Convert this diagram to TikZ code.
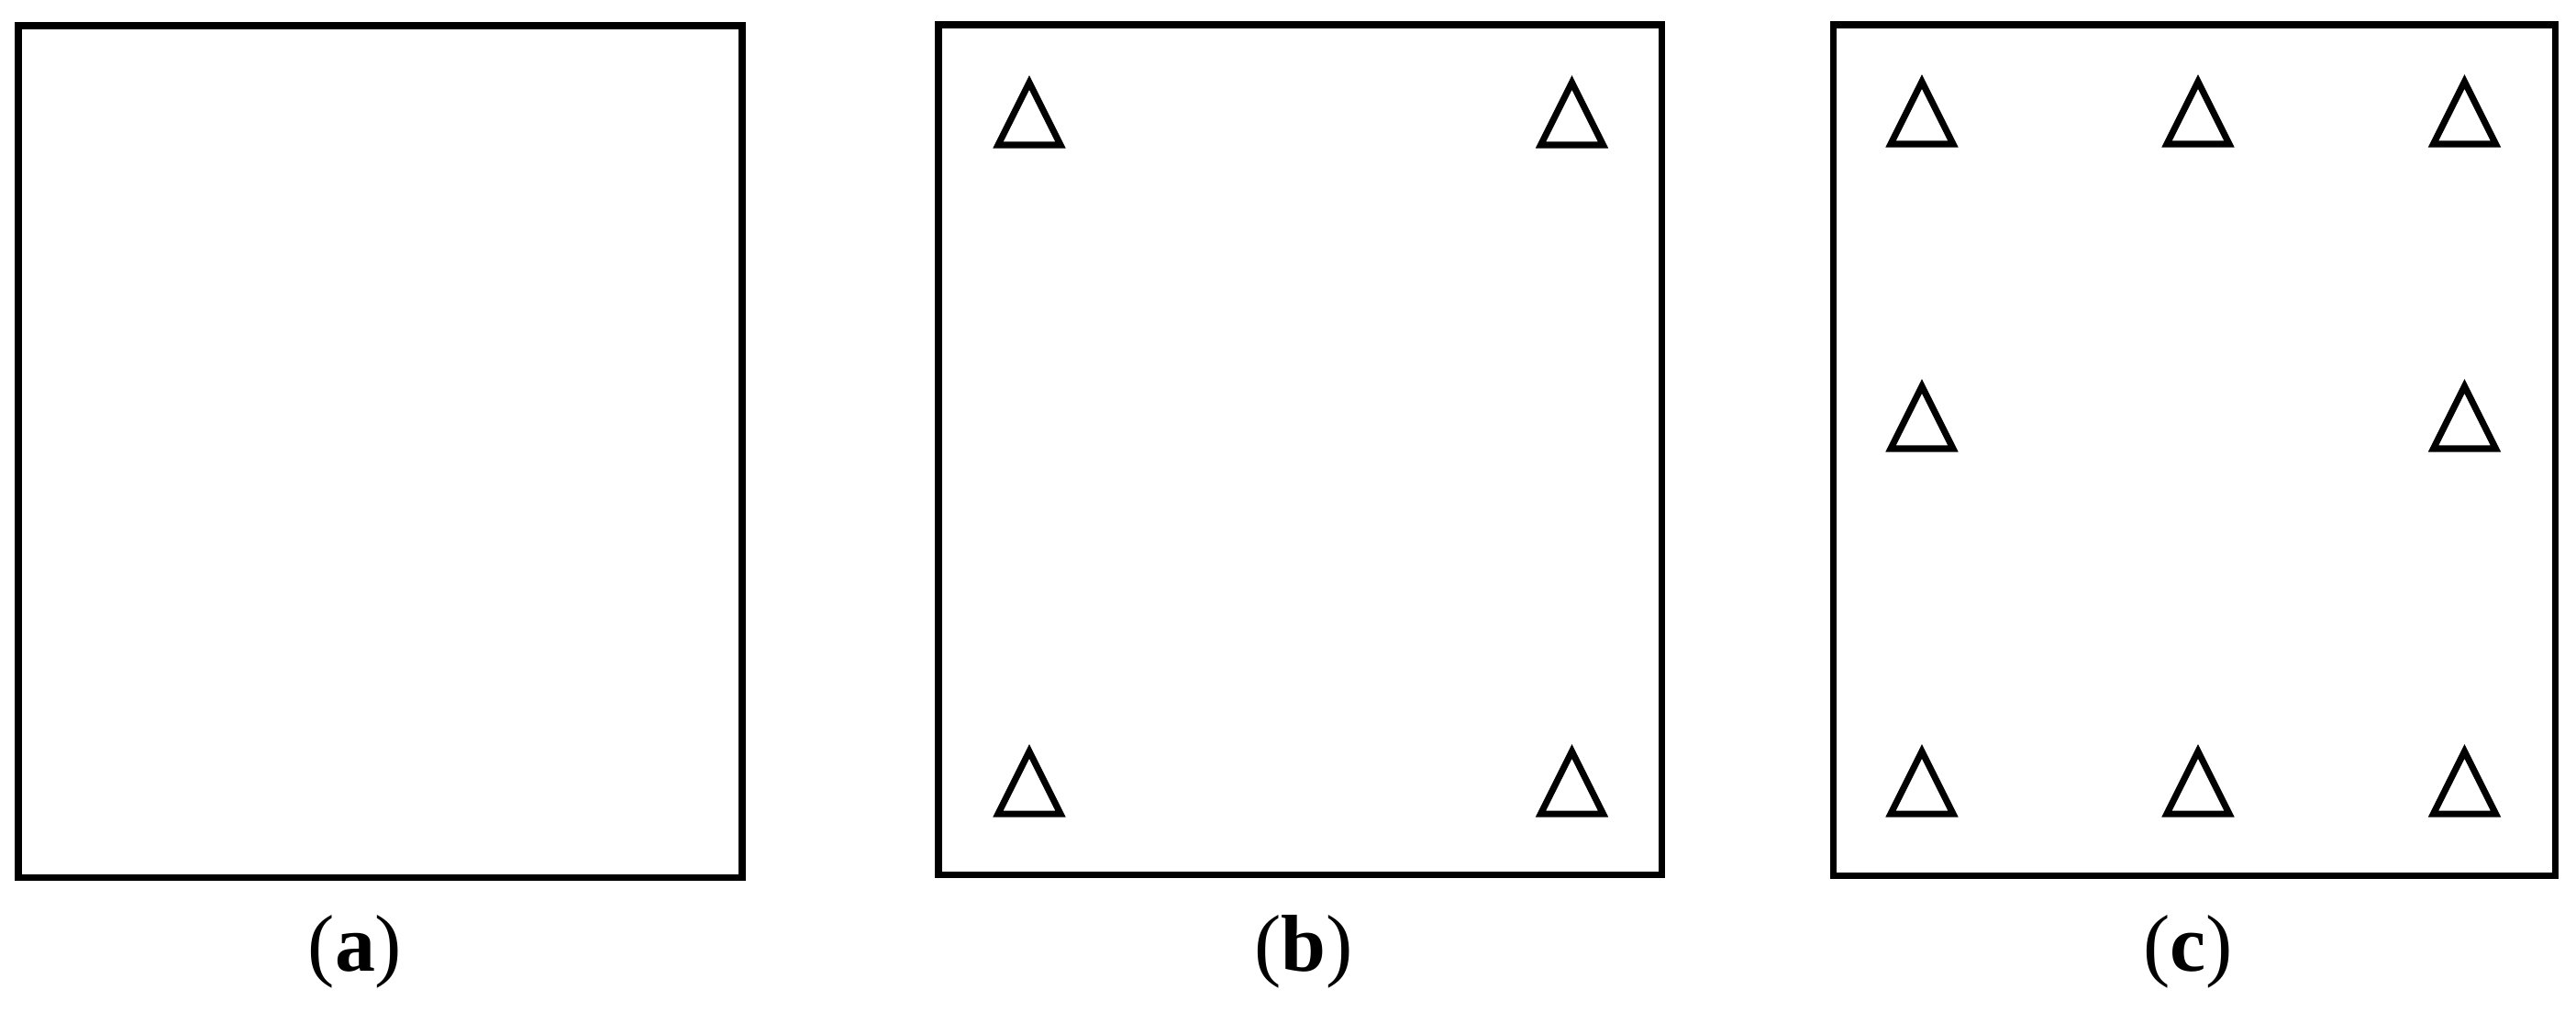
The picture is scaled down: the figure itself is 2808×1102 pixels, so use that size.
\documentclass[tikz,border=0pt]{standalone}
\usepackage{fontspec}
\setmainfont{Liberation Serif}

\tikzset{
  panel/.style={draw=black,line width=2pt},
  sensor/.style={draw=black,line width=2pt,fill=white},
  caption/.style={anchor=base,inner sep=0pt,font=\fontsize{25}{30}\selectfont}
}

\begin{document}
\begin{tikzpicture}[x=0.01cm,y=-0.01cm]
    \useasboundingbox (0,0) rectangle (2808,1102);
    % frames
    \coordinate (A0) at (20,28);
    \coordinate (A1) at (809,956);
    \coordinate (B0) at (1023,27);
    \coordinate (B1) at (1811,953);
    \coordinate (C0) at (1998,27);
    \coordinate (C1) at (2785,954);
    \draw[panel] (A0) rectangle (A1);
    \draw[panel] (B0) rectangle (B1);
    \draw[panel] (C0) rectangle (C1);
    % sensor positions (base centre of each triangle)
    \coordinate (b1) at (1122,158);
    \coordinate (b2) at (1713.5,158);
    \coordinate (b3) at (1122,887);
    \coordinate (b4) at (1713.5,887);
    \coordinate (c1) at (2095,157);
    \coordinate (c2) at (2396,157);
    \coordinate (c3) at (2686.5,157);
    \coordinate (c4) at (2095,489);
    \coordinate (c5) at (2686.5,489);
    \coordinate (c6) at (2095,887);
    \coordinate (c7) at (2396,887);
    \coordinate (c8) at (2686.5,887);
    \foreach \s in {b1,b2,b3,b4,c1,c2,c3,c4,c5,c6,c7,c8}
      \draw[sensor] (\s) ++(-34,0) -- ++(34,-68) -- ++(34,68) -- cycle;
    % captions
    \node[caption] (la) at (387,1058) {(\textbf{a})};
    \node[caption] (lb) at (1421,1058) {(\textbf{b})};
    \node[caption] (lc) at (2385,1058) {(\textbf{c})};
  \end{tikzpicture}
\end{document}
